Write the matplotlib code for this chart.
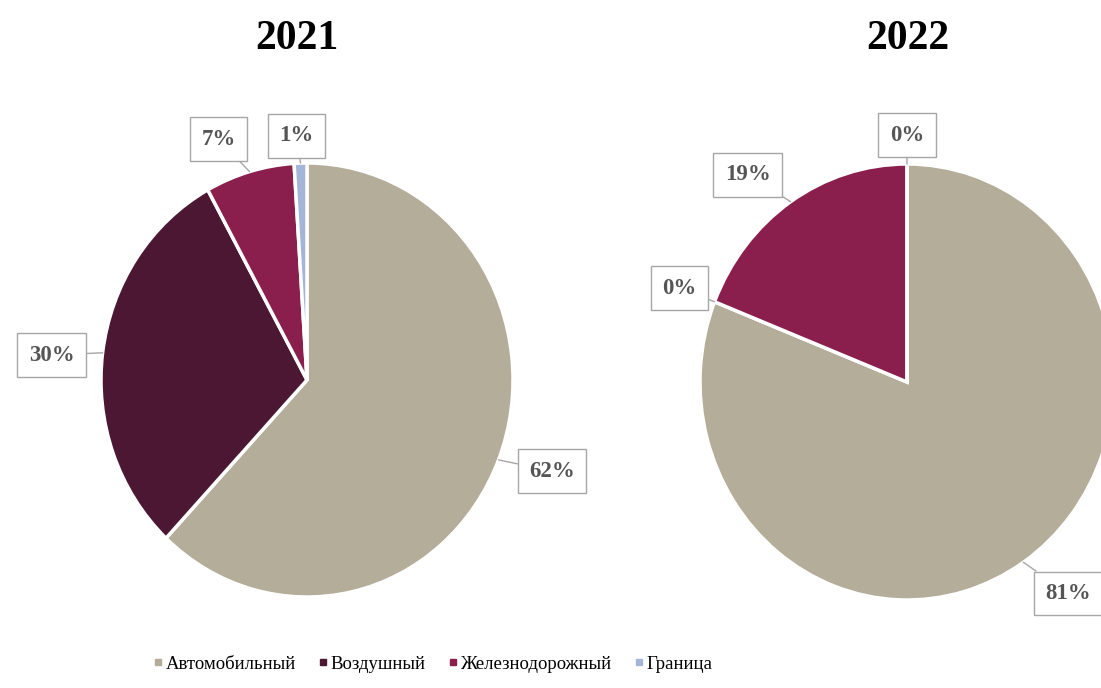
import numpy as np
import matplotlib.pyplot as plt
from matplotlib.lines import Line2D

plt.rcParams['font.family'] = ['Liberation Serif', 'DejaVu Serif']

categories = ['Автомобильный', 'Воздушный', 'Железнодорожный', 'Граница']
colors = ['#B4AD99', '#4B1733', '#8A1F4D', '#A3B6D8']
years = ['2021', '2022']
shares_2021 = [62, 30, 7, 1]
shares_2022 = [81, 0, 19, 0]

# label box centres (data units of each pie axes), one per slice
label_pos_2021 = [(1.19, -0.42), (-1.24, 0.115), (-0.43, 1.11), (-0.05, 1.125)]
label_pos_2022 = [(0.78, -0.97), (-1.10, 0.43), (-0.77, 0.95), (0.0, 1.133)]

W, H = 1101, 688
fig = plt.figure(figsize=(W / 100, H / 100), dpi=100)


def pie_axes(cx, cy, rx, ry):
    # axes placed so that radius 1 maps to rx/ry pixels around (cx, cy)
    w, h = 2.5 * rx, 2.5 * ry
    return fig.add_axes([(cx - w / 2) / W, (H - cy - h / 2) / H, w / W, h / H])


def draw_pie(ax, shares, label_pos, title, tx):
    wedges, _ = ax.pie(shares, colors=colors, startangle=90, counterclock=False,
                       wedgeprops=dict(edgecolor='white', linewidth=2.5))
    ax.set_aspect('auto')
    ax.set_xlim(-1.25, 1.25)
    ax.set_ylim(-1.25, 1.25)
    for w, v, (lx, ly) in zip(wedges, shares, label_pos):
        ang = np.deg2rad((w.theta1 + w.theta2) / 2)
        ax.annotate(f'{v}%', xy=(np.cos(ang), np.sin(ang)), xytext=(lx, ly),
                    ha='center', va='center', fontsize=16.5, fontweight='bold',
                    color='#555555', annotation_clip=False,
                    bbox=dict(boxstyle='square,pad=0.5', fc='white', ec='#A6A6A6', lw=1),
                    arrowprops=dict(arrowstyle='-', color='#A6A6A6', lw=1,
                                    shrinkA=0, shrinkB=0))
    fig.text(tx / W, 1 - 39 / H, title, ha='center', va='center',
             fontsize=30, fontweight='bold', color='black')


ax1 = pie_axes(307, 380, 206, 217)
draw_pie(ax1, shares_2021, label_pos_2021, years[0], 297)
ax2 = pie_axes(907, 382, 207, 218)
draw_pie(ax2, shares_2022, label_pos_2022, years[1], 908)

handles = [Line2D([], [], marker='s', linestyle='none', markersize=5,
                  markerfacecolor=c, markeredgecolor=c) for c in colors]
fig.legend(handles, categories, loc='center', bbox_to_anchor=(432 / W, 1 - 664 / H),
           ncol=4, frameon=False, fontsize=13.5, handletextpad=0.05,
           columnspacing=1.1, handlelength=0.7)

fig.savefig('out.png', dpi=100)
